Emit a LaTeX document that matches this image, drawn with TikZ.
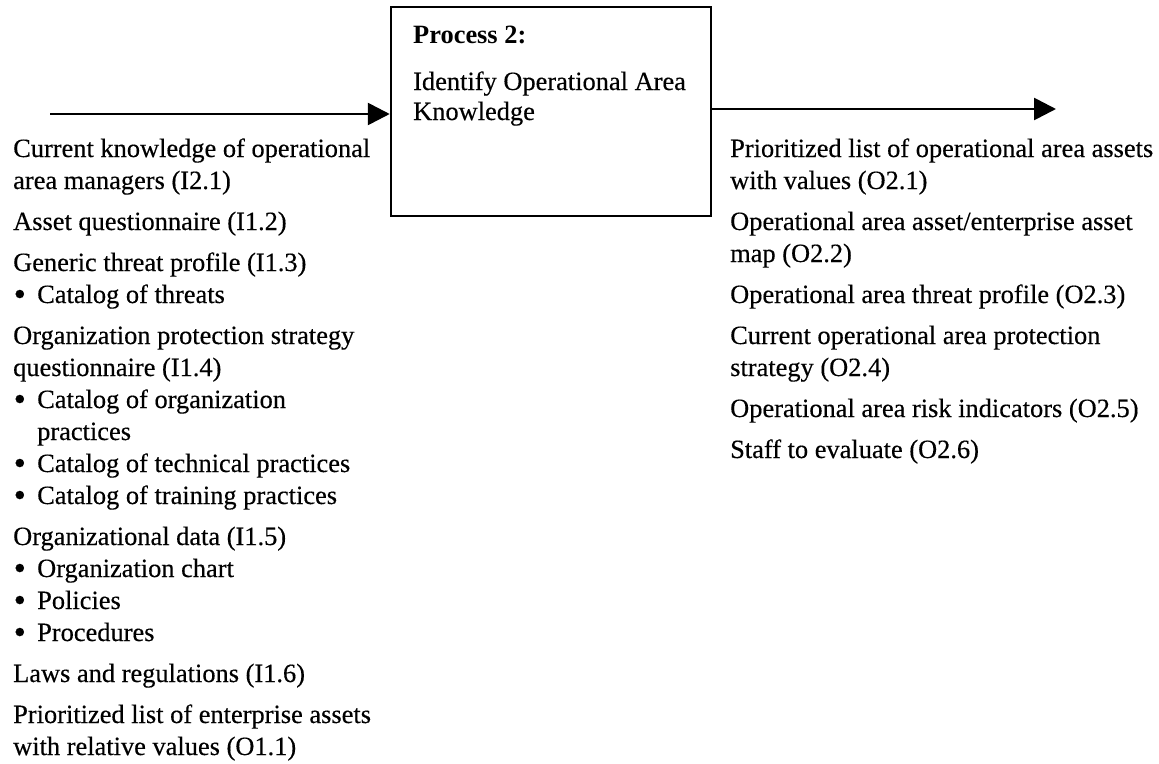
\documentclass[tikz,border=0pt]{standalone}
\usepackage{fontspec}
\setmainfont{Liberation Serif}[UprightFeatures={FakeBold=0.35}]
\usetikzlibrary{arrows.meta}
\newcommand{\bul}{\makebox[24pt][l]{\hspace{0.5pt}\raisebox{-2.6pt}{\fontsize{35}{35}\selectfont\textbullet}}}
\newcommand{\ind}{\hspace*{24pt}}
\newcommand{\lns}[1]{\begin{tabular}[t]{@{}l@{}}#1\end{tabular}}
\tikzset{
  txt/.style={anchor=base west, inner sep=0pt, font=\fontsize{26.4}{32}\selectfont},
  procbox/.style={draw, line width=2.5pt, minimum width=320pt, minimum height=209pt, inner sep=0pt},
  flow/.style={line width=2.7pt, -{Triangle[length=22pt,width=22pt]}}
}
\begin{document}
\begin{tikzpicture}[x=1pt,y=-1pt]
\useasboundingbox (0,0) rectangle (1159,763);
% process box
\node[procbox] (proc) at (551,111.5) {};
\node[txt, font=\fontsize{26.4}{32}\selectfont\bfseries] (ptitle) at (413,43) {Process 2:};
\node[txt] (pname) at (413,90) {\lns{Identify Operational Area\\[-2pt]Knowledge}};
% arrows
\coordinate (inS) at (50,114);
\coordinate (outE) at (1056,109);
\draw[flow] (inS) -- (inS -| proc.west);
\draw[flow] (outE -| proc.east) -- (outE);
% inputs
\node[txt] (i1) at (13,157) {\lns{Current knowledge of operational\\area managers (I2.1)}};
\node[txt] (i2) at (13,230) {Asset questionnaire (I1.2)};
\node[txt] (i3) at (13,271) {\lns{Generic threat profile (I1.3)\\\bul Catalog of threats}};
\node[txt] (i4) at (13,344) {\lns{Organization protection strategy\\questionnaire (I1.4)\\\bul Catalog of organization\\\ind practices\\\bul Catalog of technical practices\\\bul Catalog of training practices}};
\node[txt] (i5) at (13,545) {\lns{Organizational data (I1.5)\\\bul Organization chart\\\bul Policies\\\bul Procedures}};
\node[txt] (i6) at (13,682) {Laws and regulations (I1.6)};
\node[txt] (i7) at (13,723) {\lns{Prioritized list of enterprise assets\\with relative values (O1.1)}};
% outputs
\node[txt] (o1) at (730,157) {\lns{Prioritized list of operational area assets\\with values (O2.1)}};
\node[txt] (o2) at (730,230) {\lns{Operational area asset/enterprise asset\\map (O2.2)}};
\node[txt] (o3) at (730,303) {Operational area threat profile (O2.3)};
\node[txt] (o4) at (730,344) {\lns{Current operational area protection\\strategy (O2.4)}};
\node[txt] (o5) at (730,417) {Operational area risk indicators (O2.5)};
\node[txt] (o6) at (730,458) {Staff to evaluate (O2.6)};
\end{tikzpicture}
\end{document}
